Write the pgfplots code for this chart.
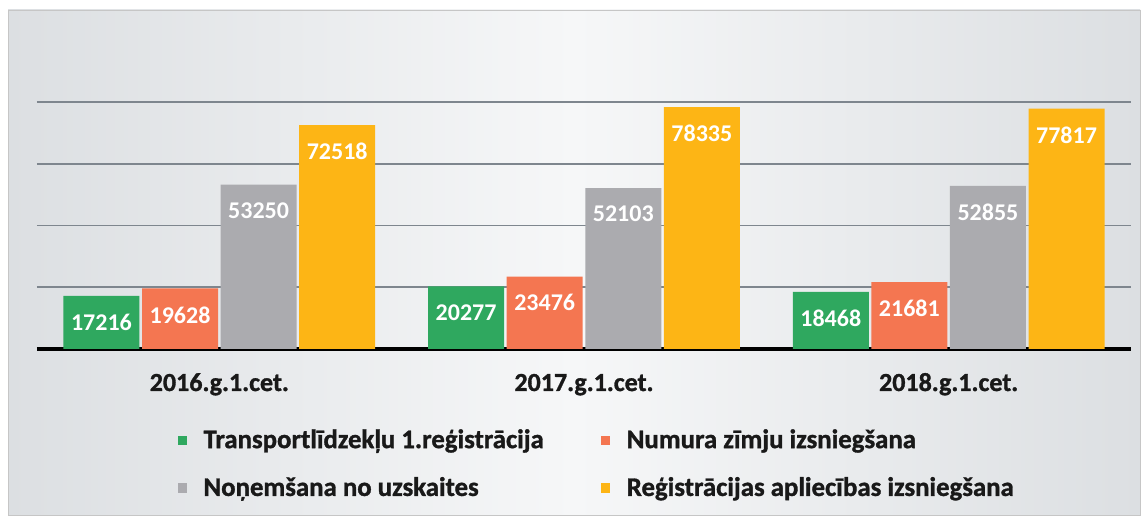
\documentclass[border=0pt]{standalone}
\usepackage{pgfplots}
\pgfplotsset{compat=1.18}
\usepackage{fontspec}
\setmainfont{Carlito}
\newfontfamily\heavy{Carlito}[BoldFeatures={FakeBold=1.2}]
\definecolor{cgreen}{HTML}{2FA85F}
\definecolor{corange}{HTML}{F47651}
\definecolor{cgray}{HTML}{ABABAF}
\definecolor{cyellow}{HTML}{FDB515}
\definecolor{gridc}{HTML}{7E868E}
\definecolor{bgside}{HTML}{DCDFE2}
\definecolor{bgmid}{HTML}{F6F7F8}
\pgfplotsset{
  sqlegend/.style={legend image code/.code={
    \fill[#1] (0pt,-2.3pt) rectangle (4.6pt,2.3pt);
    \path (11pt,0pt);}},
}
\begin{document}
\begin{tikzpicture}
% page and scanned panel (1px = 0.5pt)
\fill[white] (0,0) rectangle (574pt,259.5pt);
\shade[left color=bgside, right color=bgside, middle color=bgmid, draw=gray!45]
  (4pt,2pt) rectangle (570pt,254.5pt);
\begin{axis}[
  at={(18.5pt,85pt)}, anchor=south west,
  scale only axis,
  width=547pt, height=123.5pt,
  ybar=1.3pt,
  bar width=38pt,
  xmin=-0.5, xmax=2.5,
  ymin=0, ymax=80000,
  scaled y ticks=false,
  axis x line*=bottom, axis y line*=left,
  x axis line style={black, line width=2pt},
  y axis line style={draw=none},
  ytick={20000,40000,60000,80000},
  yticklabels={},
  major tick length=0pt,
  ymajorgrids,
  major grid style={gridc, line width=0.9pt},
  xtick={0,1,2},
  xticklabels={2016.g.1.cet., 2017.g.1.cet., 2018.g.1.cet.},
  xticklabel style={font=\fontsize{13}{15}\heavy\bfseries, text=black!90, anchor=base, yshift=-21pt},
  nodes near coords={\pgfmathprintnumber[1000 sep={}, assume math mode=true, fixed, precision=0]{\pgfplotspointmeta}},
  nodes near coords align={below},
  every node near coord/.append style={font=\fontsize{12}{14}\selectfont\bfseries, text=white, yshift=-5.5pt},
  legend columns=2,
  legend cell align=left,
  legend style={draw=none, fill=none, at={(0.1226,-0.466)}, anchor=west,
    font=\fontsize{13.4}{15}\heavy\bfseries, text=black!90,
    row sep=9pt,
    /tikz/every even column/.append style={column sep=26.5pt}},
]
\addplot[fill=cgreen, draw=none, sqlegend=cgreen]
  coordinates {(0,17216) (1,20277) (2,18468)};
\addplot[fill=corange, draw=none, sqlegend=corange]
  coordinates {(0,19628) (1,23476) (2,21681)};
\addplot[fill=cgray, draw=none, sqlegend=cgray]
  coordinates {(0,53250) (1,52103) (2,52855)};
\addplot[fill=cyellow, draw=none, sqlegend=cyellow]
  coordinates {(0,72518) (1,78335) (2,77817)};
\legend{Transportlīdzekļu 1.reģistrācija, Numura zīmju izsniegšana, Noņemšana no uzskaites, Reģistrācijas apliecības izsniegšana}
\end{axis}
\end{tikzpicture}
\end{document}
